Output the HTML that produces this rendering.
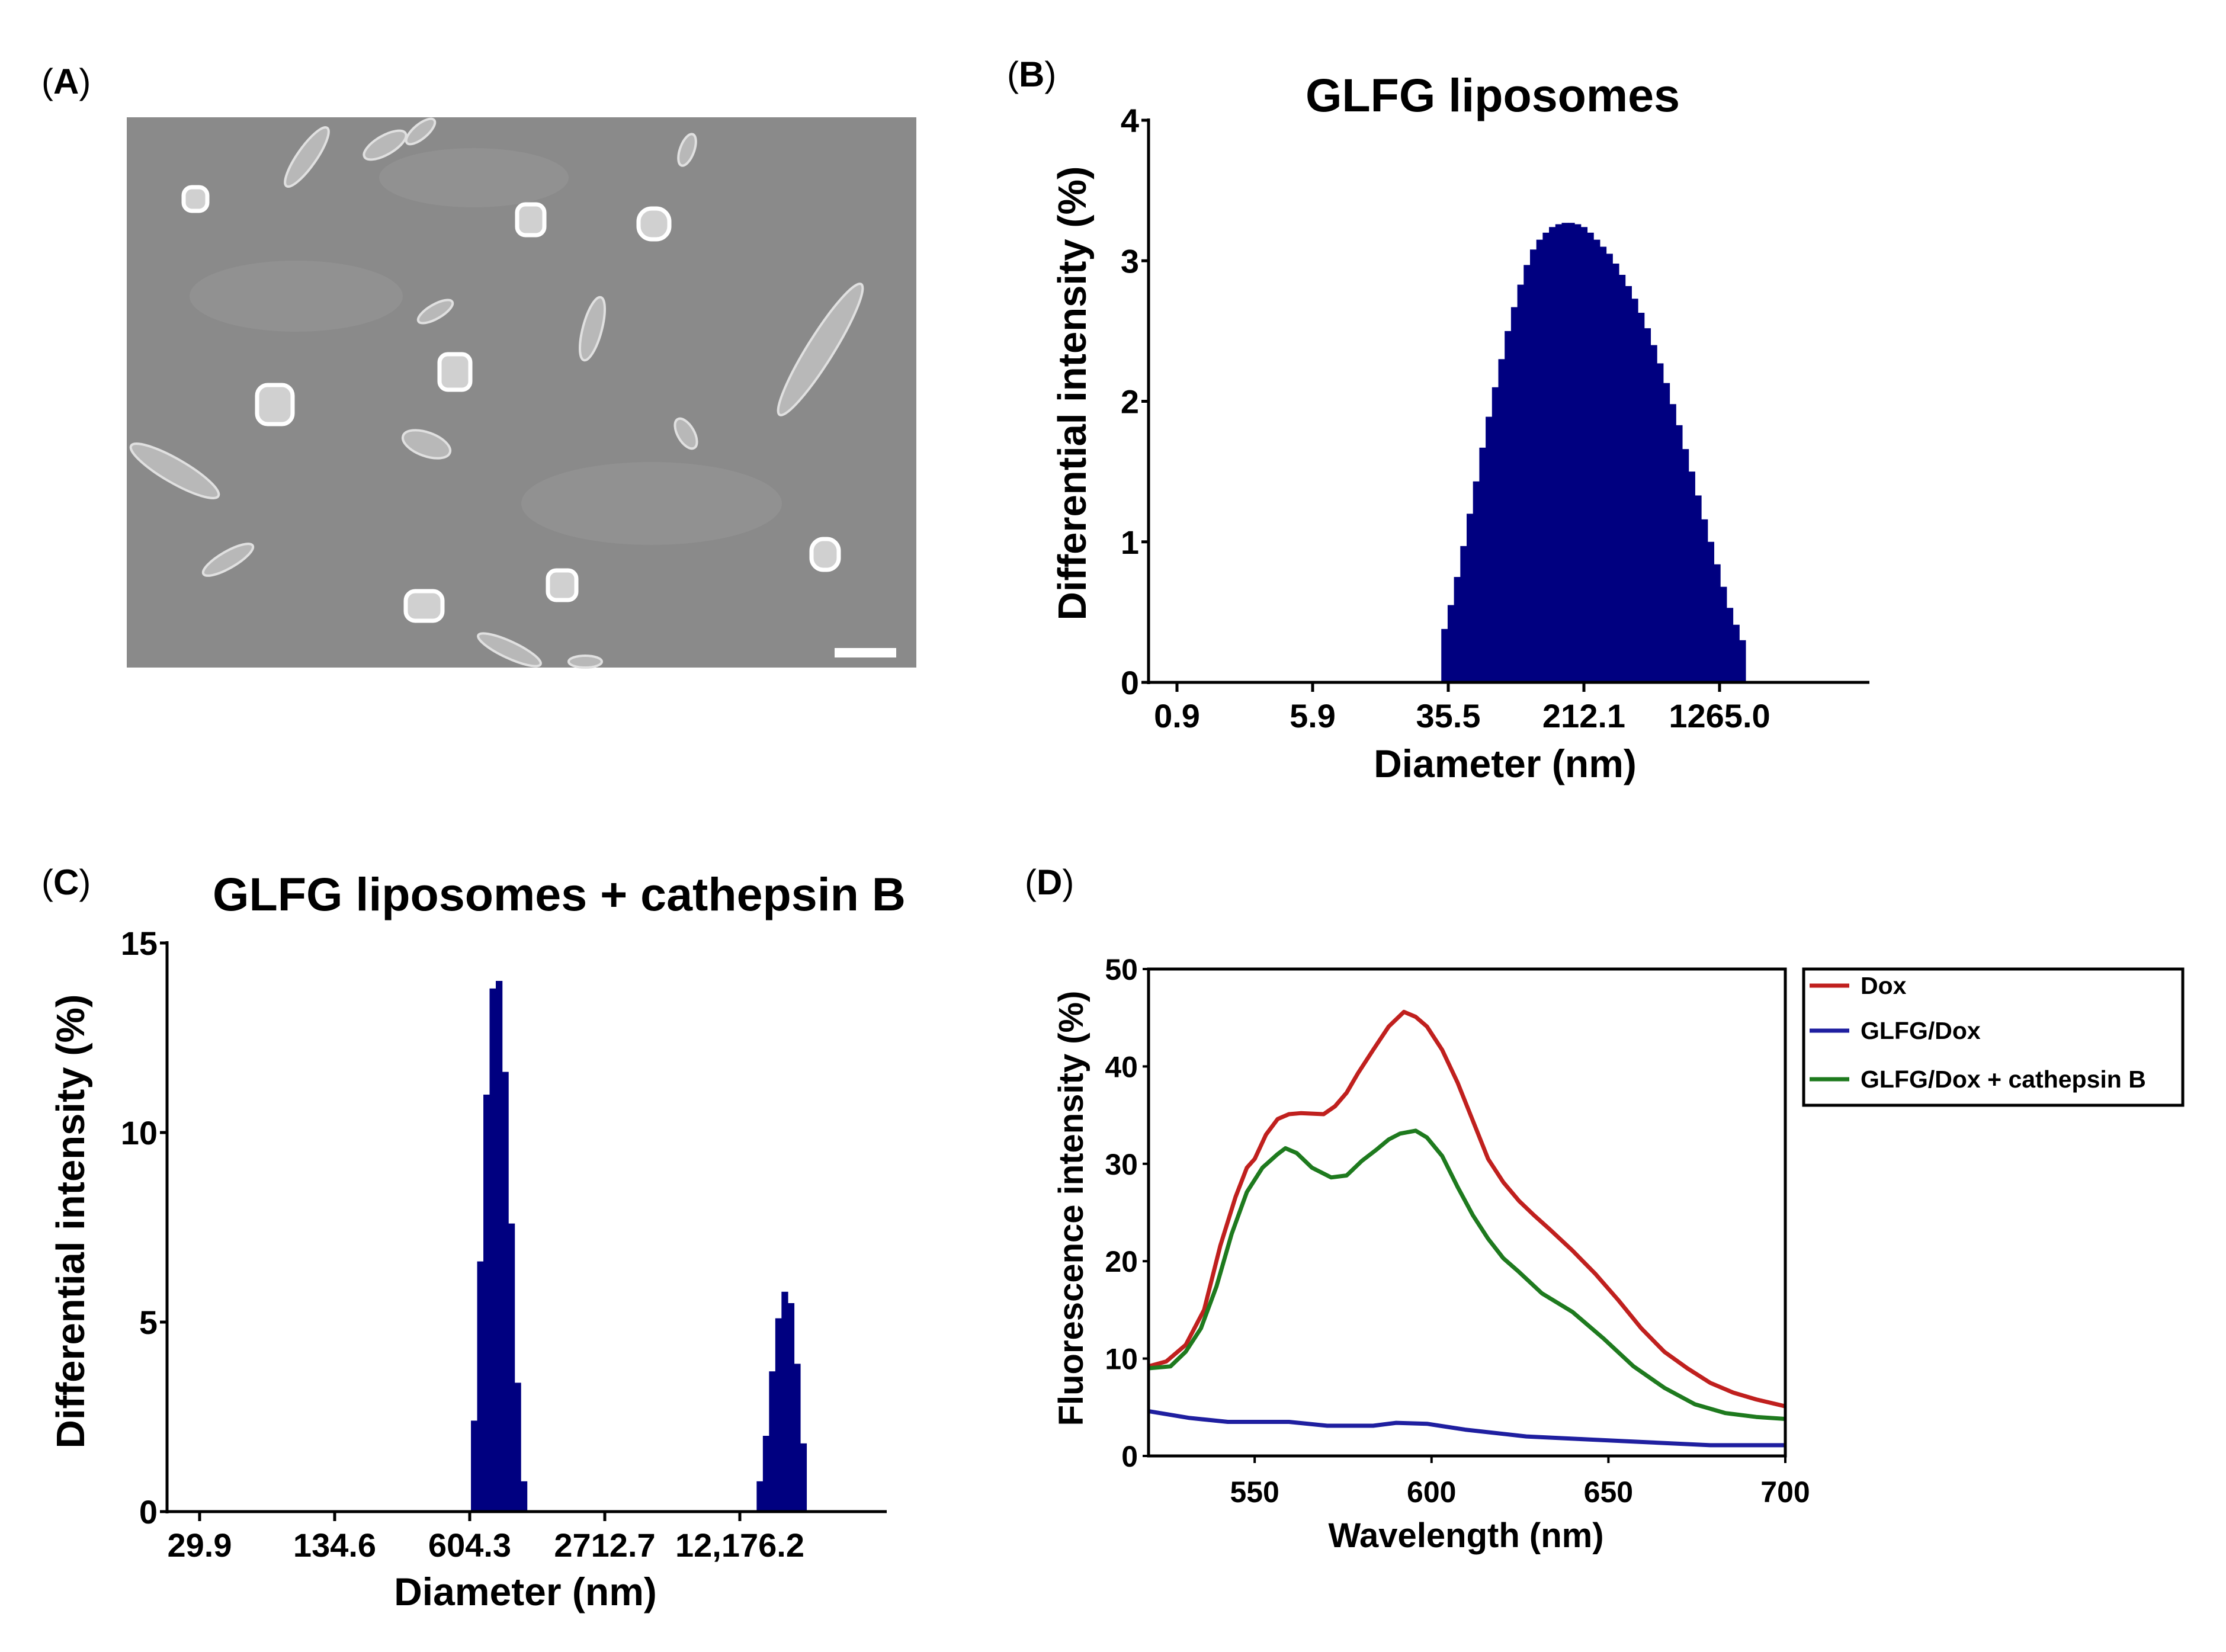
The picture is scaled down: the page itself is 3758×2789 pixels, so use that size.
<!DOCTYPE html>
<html><head><meta charset="utf-8">
<style>
html,body{margin:0;padding:0;background:#fff;}
svg{display:block;}
text{font-family:"Liberation Sans",Arial,sans-serif;}
.b{font-weight:bold;}
</style></head>
<body>
<svg id="fig" width="3758" height="2789" viewBox="0 0 3758 2789" xmlns="http://www.w3.org/2000/svg">
  <rect width="3758" height="2789" fill="#fff"/>
  <text x="70" y="158" font-size="60">(<tspan class="b">A</tspan>)</text>
  <text x="1700" y="146" font-size="60">(<tspan class="b">B</tspan>)</text>
  <text x="70" y="1510" font-size="60">(<tspan class="b">C</tspan>)</text>
  <text x="1730" y="1510" font-size="60">(<tspan class="b">D</tspan>)</text>

  <g id="sem">
    <rect x="214" y="198" width="1333" height="929" fill="#8a8a8a"/>
    <g fill="#969696" opacity="0.6">
      <ellipse cx="500" cy="500" rx="180" ry="60"/>
      <ellipse cx="1100" cy="850" rx="220" ry="70"/>
      <ellipse cx="800" cy="300" rx="160" ry="50"/>
    </g>
    <g fill="#b8b8b8" stroke="#e0e0e0" stroke-width="4">
      <ellipse cx="1385" cy="590" rx="130" ry="22" transform="rotate(-58 1385 590)"/>
      <ellipse cx="518" cy="265" rx="60" ry="16" transform="rotate(-55 518 265)"/>
      <ellipse cx="650" cy="245" rx="40" ry="16" transform="rotate(-30 650 245)"/>
      <ellipse cx="710" cy="222" rx="30" ry="12" transform="rotate(-40 710 222)"/>
      <ellipse cx="295" cy="795" rx="85" ry="20" transform="rotate(30 295 795)"/>
      <ellipse cx="1000" cy="555" rx="55" ry="16" transform="rotate(-75 1000 555)"/>
      <ellipse cx="720" cy="750" rx="42" ry="20" transform="rotate(20 720 750)"/>
      <ellipse cx="385" cy="945" rx="48" ry="14" transform="rotate(-30 385 945)"/>
      <ellipse cx="860" cy="1097" rx="58" ry="14" transform="rotate(25 860 1097)"/>
      <ellipse cx="988" cy="1117" rx="28" ry="10"/>
      <ellipse cx="1160" cy="253" rx="28" ry="12" transform="rotate(-70 1160 253)"/>
      <ellipse cx="1158" cy="732" rx="28" ry="14" transform="rotate(60 1158 732)"/>
      <ellipse cx="735" cy="526" rx="33" ry="12" transform="rotate(-30 735 526)"/>
    </g>
    <g fill="#d0d0d0" stroke="#ffffff" stroke-width="7">
      <rect x="310" y="316" width="40" height="40" rx="14"/>
      <rect x="873" y="345" width="46" height="52" rx="14"/>
      <rect x="1078" y="352" width="52" height="52" rx="22"/>
      <rect x="434" y="650" width="60" height="66" rx="18"/>
      <rect x="742" y="598" width="52" height="60" rx="14"/>
      <rect x="685" y="998" width="62" height="50" rx="16"/>
      <rect x="925" y="963" width="48" height="50" rx="14"/>
      <rect x="1370" y="910" width="46" height="52" rx="20"/>
    </g>
    <rect x="1409" y="1094" width="104" height="16" fill="#fff"/>
  </g>

  <g id="chartB"></g>
  <g id="chartC"></g>
  <g id="chartD"></g>
</svg>
<script>
// ---------- Chart B data ----------
const bTickLabels = ["0.9","5.9","35.5","212.1","1265.0"];
const bYTicks = [0,1,2,3,4];
const bFirstBinDiameter = 32.1;
const bBinRatio = 1.087;
const bValues = [0.38,0.55,0.75,0.97,1.2,1.43,1.67,1.89,2.1,2.3,2.5,2.67,2.83,2.97,3.08,3.15,3.2,3.24,3.26,3.27,3.27,3.26,3.24,3.2,3.15,3.1,3.05,2.98,2.9,2.82,2.73,2.63,2.52,2.4,2.27,2.13,1.98,1.83,1.66,1.5,1.33,1.16,1.0,0.84,0.68,0.53,0.41,0.3];

// ---------- Chart C data ----------
const cTickLabels = ["29.9","134.6","604.3","2712.7","12,176.2"];
const cYTicks = [0,5,10,15];
const cFirstBinDiameter = 610.7;
const cBinRatio = 1.0715;
const cPeak1 = [2.4,6.6,11.0,13.8,14.0,11.6,7.6,3.4,0.8];
const cGapBins = 37;
const cPeak2 = [0.8,2.0,3.7,5.1,5.8,5.5,3.9,1.8];

// ---------- Chart D data ----------
const dXTicks = [550,600,650,700];
const dYTicks = [0,10,20,30,40,50];
const doxX = [520,525,530.5,535.7,540.3,544.6,547.8,550,553.2,556.5,559.7,563,569.5,572.7,576,579.2,583.5,587.9,592.2,595.5,598.7,603,607.4,611.7,616,620.3,624.7,629,633.3,639.8,646.3,652.8,659.3,665.8,672.3,678.8,685.3,691.8,700];
const doxY = [9.2,9.7,11.4,15,21.6,26.6,29.6,30.5,33,34.6,35.1,35.2,35.1,35.9,37.3,39.3,41.7,44.1,45.6,45.1,44.1,41.7,38.3,34.4,30.5,28.1,26.2,24.7,23.3,21.1,18.7,16.0,13.1,10.7,9.0,7.5,6.5,5.8,5.1];
const glfgX = [520,531.6,542.4,559.7,570.5,583.5,590,598.7,609.5,626.8,644.2,661.5,678.8,700];
const glfgY = [4.6,3.9,3.5,3.5,3.1,3.1,3.4,3.3,2.7,2.0,1.7,1.4,1.1,1.1];
const catX = [520,526.2,530.5,534.8,539.2,543.5,547.8,552.2,556.5,558.7,561.9,566.2,571.6,576,580.3,584.6,587.9,591.1,595.5,598.7,603,607.4,611.7,616,620.3,624.7,631.2,639.8,648.5,657.1,665.8,674.5,683.1,691.8,700];
const catY = [9.0,9.2,10.7,13.1,17.4,22.8,27.1,29.6,31.0,31.6,31.1,29.6,28.6,28.8,30.3,31.5,32.5,33.1,33.4,32.7,30.8,27.6,24.7,22.3,20.3,18.9,16.7,14.8,12.1,9.2,7.0,5.3,4.4,4.0,3.8];
const legendLabels = ["Dox","GLFG/Dox","GLFG/Dox + cathepsin B"];
const legendColors = ["#c0201e","#1f1fa0","#1e7a1e"];

const NS = "http://www.w3.org/2000/svg";
function mk(parent, tag, attrs, txt){
  const e = document.createElementNS(NS, tag);
  for (const k in attrs) e.setAttribute(k, attrs[k]);
  if (txt !== undefined) e.textContent = txt;
  parent.appendChild(e);
  return e;
}

function drawDLS(g, o){
  const yS = v => o.y0 + (o.yTop - o.y0) * v / o.yMax;
  const xS = d => o.x0t + o.tickStep * Math.log(d / o.d0) / Math.log(o.ratio);
  let d = o.firstBin;
  for (let i = 0; i < o.values.length; i++) {
    const x1 = xS(d), x2 = xS(d * o.binRatio);
    if (o.values[i] > 0) {
      const r = mk(g, "rect", {x: x1, y: yS(o.values[i]), width: (x2 - x1) + 0.8, height: o.y0 - yS(o.values[i]), fill: "#000080"});
      
      
    }
    d *= o.binRatio;
  }
  const ya = mk(g, "line", {x1: o.axX, y1: o.yTop - 3, x2: o.axX, y2: o.y0 + 3, stroke: "#000", "stroke-width": 5});
  
  
  const xa = mk(g, "line", {x1: o.axX - 2, y1: o.y0, x2: o.xEnd, y2: o.y0, stroke: "#000", "stroke-width": 5});
  
  
  o.yTicks.forEach(v => {
    const y = yS(v);
    mk(g, "line", {x1: o.axX - 12, y1: y, x2: o.axX, y2: y, stroke: "#000", "stroke-width": 5});
    const t = mk(g, "text", {x: o.axX - 16, y: y + 20, "font-size": 56, "font-weight": "bold", "text-anchor": "end"}, String(v));
    
    
  });
  o.tickLabels.forEach((lab, i) => {
    const x = o.x0t + o.tickStep * i;
    mk(g, "line", {x1: x, y1: o.y0, x2: x, y2: o.y0 + 16, stroke: "#000", "stroke-width": 5});
    const t = mk(g, "text", {x: x, y: o.y0 + 76, "font-size": 56, "font-weight": "bold", "text-anchor": "middle"}, lab);
    
    
  });
  const tt = mk(g, "text", {x: o.titleX, y: o.titleY, "font-size": 79, "font-weight": "bold", "text-anchor": "middle"}, o.title);
  
  
  const xt = mk(g, "text", {x: o.xTitleX, y: o.xTitleY, "font-size": 66, "font-weight": "bold", "text-anchor": "middle"}, "Diameter (nm)");
  
  
  const yt = mk(g, "text", {x: 0, y: 0, "font-size": 67, "font-weight": "bold", "text-anchor": "middle", transform: `translate(${o.yTitleX},${o.yTitleY}) rotate(-90)`}, "Differential intensity (%)");
  
  
}

drawDLS(document.getElementById("chartB"), {
  values: bValues, firstBin: bFirstBinDiameter, binRatio: bBinRatio,
  d0: 0.9893, ratio: 5.964, x0t: 1987, tickStep: 229, tickLabels: bTickLabels,
  yTicks: bYTicks, yMax: 4, y0: 1152, yTop: 203, axX: 1939, xEnd: 3156,
  title: "GLFG liposomes", titleX: 2520, titleY: 188,
  xTitleX: 2541, xTitleY: 1312, yTitleX: 1833, yTitleY: 664
});

const cValues = cPeak1.concat(new Array(cGapBins).fill(0), cPeak2);
drawDLS(document.getElementById("chartC"), {
  values: cValues, firstBin: cFirstBinDiameter, binRatio: cBinRatio,
  d0: 29.9, ratio: 4.489, x0t: 337, tickStep: 228, tickLabels: cTickLabels,
  yTicks: cYTicks, yMax: 15, y0: 2552, yTop: 1592, axX: 282, xEnd: 1497,
  title: "GLFG liposomes + cathepsin B", titleX: 944, titleY: 1537,
  xTitleX: 887, xTitleY: 2710, yTitleX: 142, yTitleY: 2062
});

(function(){
  const g = document.getElementById("chartD");
  const L = 1939, R = 3014, T = 1636, B = 2458, xmin = 520, xmax = 700, ymax = 50;
  const xS = v => L + (v - xmin) / (xmax - xmin) * (R - L);
  const yS = v => B - v / ymax * (B - T);
  const series = [[doxX, doxY, legendColors[0], "dox-line"], [glfgX, glfgY, legendColors[1], "glfg-dox-line"], [catX, catY, legendColors[2], "glfg-dox-cathepsin-line"]];
  series.forEach(s => {
    const pts = s[0].map((x, i) => xS(x).toFixed(1) + "," + yS(s[1][i]).toFixed(1)).join(" ");
    const p = mk(g, "polyline", {points: pts, fill: "none", stroke: s[2], "stroke-width": 7, "stroke-linejoin": "round"});
    
    
  });
  const box = mk(g, "rect", {x: L, y: T, width: R - L, height: B - T, fill: "none", stroke: "#000", "stroke-width": 5});
  
  
  dYTicks.forEach(v => {
    const y = yS(v);
    mk(g, "line", {x1: L - 10, y1: y, x2: L, y2: y, stroke: "#000", "stroke-width": 4});
    const t = mk(g, "text", {x: L - 18, y: y + 18, "font-size": 50, "font-weight": "bold", "text-anchor": "end"}, String(v));
    
    
  });
  dXTicks.forEach(v => {
    const x = xS(v);
    mk(g, "line", {x1: x, y1: B, x2: x, y2: B + 12, stroke: "#000", "stroke-width": 4});
    const t = mk(g, "text", {x: x, y: B + 78, "font-size": 50, "font-weight": "bold", "text-anchor": "middle"}, String(v));
    
    
  });
  const xt = mk(g, "text", {x: 2475, y: 2612, "font-size": 58, "font-weight": "bold", "text-anchor": "middle"}, "Wavelength (nm)");
  
  
  const yt = mk(g, "text", {x: 0, y: 0, "font-size": 58, "font-weight": "bold", "text-anchor": "middle", transform: "translate(1828,2040) rotate(-90)"}, "Fluorescence intensity (%)");
  
  
  const lg = mk(g, "g", {});
  
  
  mk(lg, "rect", {x: 3045, y: 1636, width: 640, height: 230, fill: "#fff", stroke: "#000", "stroke-width": 5});
  const ly = [1664, 1740, 1822];
  legendLabels.forEach((lab, i) => {
    const e = mk(lg, "g", {});
    
    
    mk(e, "line", {x1: 3055, y1: ly[i], x2: 3122, y2: ly[i], stroke: legendColors[i], "stroke-width": 7});
    mk(e, "text", {x: 3141, y: ly[i] + 14, "font-size": 41, "font-weight": "bold"}, lab);
  });
})();
</script>
</body></html>
